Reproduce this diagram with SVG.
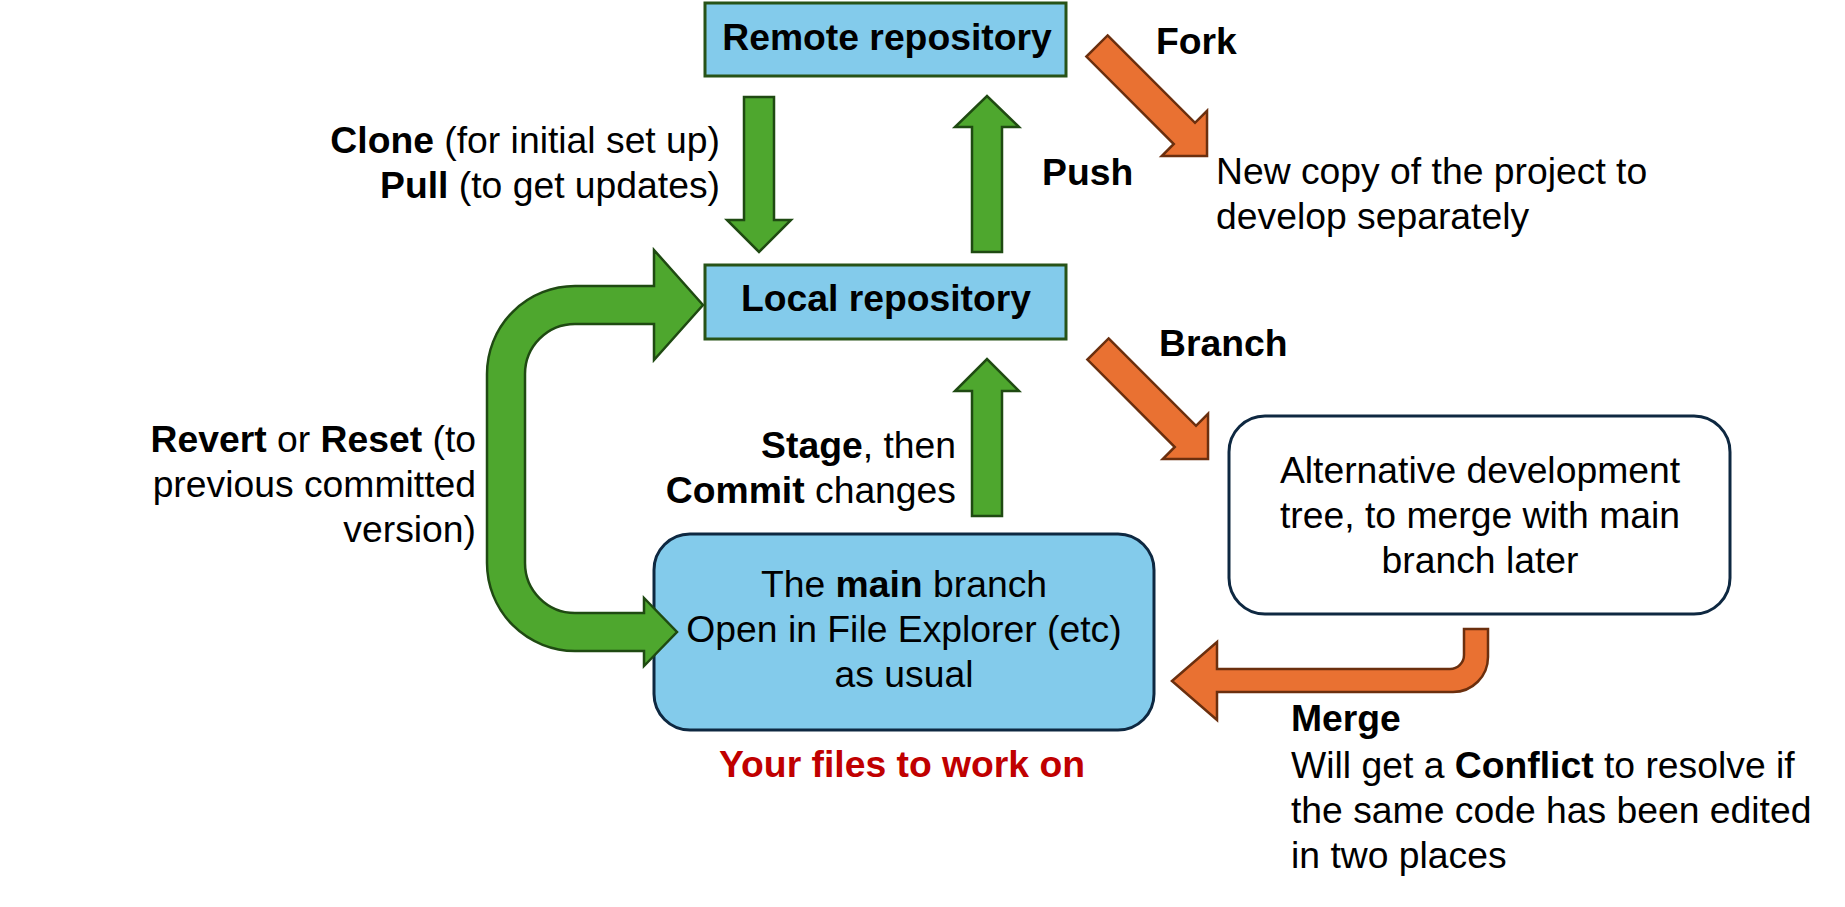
<svg xmlns="http://www.w3.org/2000/svg" width="1845" height="907" viewBox="0 0 1845 907">
<style>
text{font-family:"Liberation Sans",Arial,sans-serif;font-size:37.3px;fill:#000}
.b{font-weight:bold}
.box{fill:#83CBEB;stroke:#275317;stroke-width:3}
.rbox{stroke:#0E2841;stroke-width:3}
.g{fill:#4EA72E;stroke:#1F4A12;stroke-width:2.5;stroke-linejoin:miter}
.o{fill:#E97132;stroke:#6B2F0E;stroke-width:2.5;stroke-linejoin:miter}
.red{fill:#C00000;font-weight:bold}
</style>
<defs>
<polygon id="diag" points="0,-15 123.6,-15 123.6,-32 155.6,0 123.6,32 123.6,15 0,15"/>
</defs>
<rect width="1845" height="907" fill="#fff"/>

<g id="remote">
<rect class="box" x="705" y="3" width="361" height="73"/>
<text class="b" x="887" y="50" text-anchor="middle">Remote repository</text>
</g>

<g id="local">
<rect class="box" x="705" y="265" width="361" height="74"/>
<text class="b" x="886" y="311" text-anchor="middle">Local repository</text>
</g>

<g id="main">
<rect class="rbox" x="654" y="534" width="500" height="196" rx="36" ry="36" fill="#83CBEB"/>
<text x="904" y="597" text-anchor="middle">The <tspan class="b">main</tspan> branch</text>
<text x="904" y="642" text-anchor="middle">Open in File Explorer (etc)</text>
<text x="904" y="687" text-anchor="middle">as usual</text>
<text class="red" x="902" y="777" text-anchor="middle">Your files to work on</text>
</g>

<g id="alt">
<rect class="rbox" x="1229" y="416" width="501" height="198" rx="36" ry="36" fill="#fff"/>
<text x="1480" y="483" text-anchor="middle">Alternative development</text>
<text x="1480" y="528" text-anchor="middle">tree, to merge with main</text>
<text x="1480" y="573" text-anchor="middle">branch later</text>
</g>

<g id="fork-copy">
<text x="1216" y="184">New copy of the project to</text>
<text x="1216" y="229">develop separately</text>
</g>

<g id="connectors">
<path id="clone-arrow" class="g" d="M744 97 L774 97 L774 220 L791 220 L759 252 L727 220 L744 220 Z"/>
<path id="push-arrow" class="g" d="M972 252 L1002 252 L1002 127 L1019 127 L987 96 L955 127 L972 127 Z"/>
<path id="stage-arrow" class="g" d="M972 516 L1002 516 L1002 391 L1019 391 L987 359 L955 391 L972 391 Z"/>
<path id="revert-arrow" class="g" d="M703 305 L654 250 L654 286 L575 286 A88 88 0 0 0 487 374 L487 563 A88 88 0 0 0 575 651 L644 651 L644 666 L677 632 L644 598 L644 613 L575 613 A50 50 0 0 1 525 563 L525 374 A50 50 0 0 1 575 324 L654 324 L654 360 Z"/>
<use id="fork-arrow" href="#diag" class="o" transform="translate(1097 46) rotate(45)"/>
<use id="branch-arrow" href="#diag" class="o" transform="translate(1098 349) rotate(45)"/>
<path id="merge-arrow" class="o" d="M1172 681 L1217 642 L1217 669 L1450 669 A14 14 0 0 0 1464 655 L1464 629 L1488 629 L1488 657 A35 35 0 0 1 1453 692 L1217 692 L1217 720 Z"/>
</g>

<g id="labels">
<text x="720" y="153" text-anchor="end"><tspan class="b">Clone</tspan> (for initial set up)</text>
<text x="720" y="198" text-anchor="end"><tspan class="b">Pull</tspan> (to get updates)</text>
<text class="b" x="1042" y="185">Push</text>
<text class="b" x="1156" y="54">Fork</text>
<text class="b" x="1159" y="356">Branch</text>
<text x="956" y="458" text-anchor="end"><tspan class="b">Stage</tspan>, then</text>
<text x="956" y="503" text-anchor="end"><tspan class="b">Commit</tspan> changes</text>
<text x="476" y="452" text-anchor="end"><tspan class="b">Revert</tspan> or <tspan class="b">Reset</tspan> (to</text>
<text x="476" y="497" text-anchor="end">previous committed</text>
<text x="476" y="542" text-anchor="end">version)</text>
<text class="b" x="1291" y="731">Merge</text>
<text x="1291" y="778">Will get a <tspan class="b">Conflict</tspan> to resolve if</text>
<text x="1291" y="823">the same code has been edited</text>
<text x="1291" y="868">in two places</text>
</g>
</svg>
